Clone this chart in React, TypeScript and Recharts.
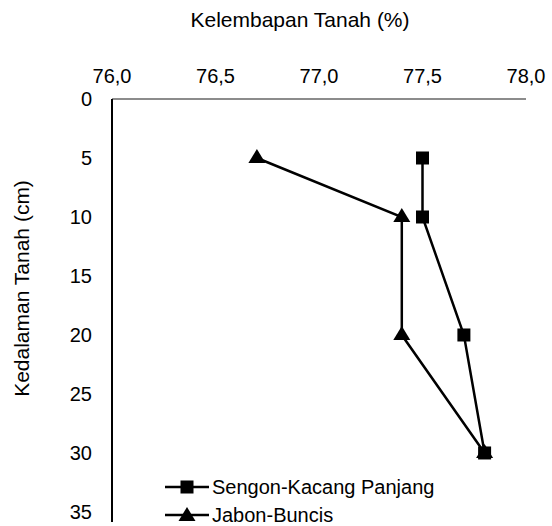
import { ScatterChart, Scatter, XAxis, YAxis, Legend } from 'recharts';

const depths = [5, 10, 20, 30];
const sengonKacangPanjang = [77.5, 77.5, 77.7, 77.8];
const jabonBuncis = [76.7, 77.4, 77.4, 77.8];
const xTicks = [76, 76.5, 77, 77.5, 78];
const yTicks = [0, 5, 10, 15, 20, 25, 30, 35];
const seriesNames = ['Sengon-Kacang Panjang', 'Jabon-Buncis'];

const sengonData = depths.map((d, i) => ({ moisture: sengonKacangPanjang[i], depth: d }));
const jabonData = depths.map((d, i) => ({ moisture: jabonBuncis[i], depth: d }));

const FONT = '"Liberation Sans", Arial, sans-serif';
const FS = 20;

const SquareDot = ({ cx, cy }: any) => (
  <rect x={cx - 6.5} y={cy - 6.5} width={13} height={13} fill="#000" />
);

const TriangleDot = ({ cx, cy }: any) => (
  <polygon
    points={`${cx},${cy - 9} ${cx + 8.5},${cy + 5} ${cx - 8.5},${cy + 5}`}
    fill="#000"
  />
);

// keep the legend in series order (recharts sorts the payload by name)
const LegendContent = () => (
  <div style={{ fontFamily: FONT, fontSize: FS, lineHeight: '22px', color: '#000' }}>
    {seriesNames.map((name, i) => (
      <div key={`legend-${i}`} style={{ display: 'flex', alignItems: 'center', height: 28 }}>
        <svg width={50} height={20}>
          <line x1={3} y1={10} x2={47} y2={10} stroke="#000" strokeWidth={2.5} />
          {i === 0 ? (
            <rect x={18.5} y={3.5} width={13} height={13} fill="#000" />
          ) : (
            <polygon points="25,2 33.5,16 16.5,16" fill="#000" />
          )}
        </svg>
        <span>{name}</span>
      </div>
    ))}
  </div>
);

export default function App() {
  return (
    <div style={{ position: 'absolute', left: 0, top: 0, width: 552, height: 526, background: '#fff' }}>
      <ScatterChart
        width={552}
        height={526}
        margin={{ top: 59, right: 26, bottom: 4, left: 0 }}
        style={{ fontFamily: FONT }}
      >
        <XAxis
          type="number"
          dataKey="moisture"
          orientation="top"
          height={40}
          domain={[76, 78]}
          ticks={xTicks}
          tickFormatter={(v: number) => v.toFixed(1).replace('.', ',')}
          axisLine={{ stroke: '#8c8c8c', strokeWidth: 2 }}
          tickLine={false}
          tickSize={8}
          tickMargin={8}
          tick={{ fill: '#000', fontSize: FS }}
          label={{
            value: 'Kelembapan Tanah (%)',
            position: 'top',
            offset: 0,
            dx: -19,
            dy: -32,
            fill: '#000',
            fontSize: 21,
          }}
        />
        <YAxis
          type="number"
          dataKey="depth"
          reversed
          width={112}
          domain={[0, 35.85]}
          ticks={yTicks}
          allowDataOverflow
          axisLine={{ stroke: '#000', strokeWidth: 2 }}
          tickLine={false}
          tickSize={10}
          tickMargin={10}
          tick={{ fill: '#000', fontSize: FS }}
          label={{
            value: 'Kedalaman Tanah (cm)',
            angle: -90,
            position: 'center',
            dx: -34,
            dy: -22,
            fill: '#000',
            fontSize: 21,
          }}
        />
        <Scatter
          name={seriesNames[0]}
          data={sengonData}
          fill="#000"
          line={{ stroke: '#000', strokeWidth: 2.5 }}
          shape={<SquareDot />}
          isAnimationActive={false}
        />
        <Scatter
          name={seriesNames[1]}
          data={jabonData}
          fill="#000"
          line={{ stroke: '#000', strokeWidth: 2.5 }}
          shape={<TriangleDot />}
          isAnimationActive={false}
        />
        <Legend
          layout="vertical"
          verticalAlign="middle"
          align="center"
          content={<LegendContent />}
          wrapperStyle={{ position: 'absolute', left: 162, top: 473, width: 320 }}
        />
      </ScatterChart>
    </div>
  );
}
